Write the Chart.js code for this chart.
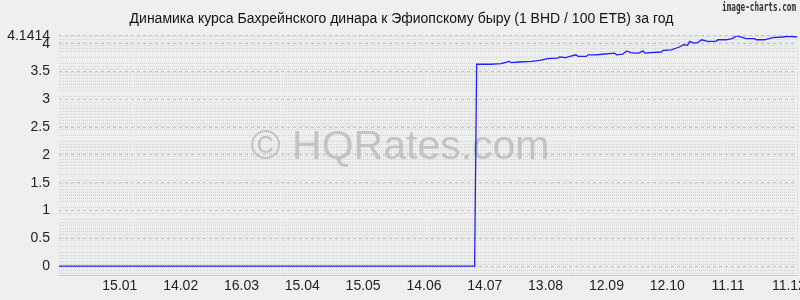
<!DOCTYPE html>
<html><head><meta charset="utf-8">
<script src="https://cdn.jsdelivr.net/npm/chart.js@4/dist/chart.umd.min.js"></script>
<style>html,body{margin:0;padding:0;background:#efefef;overflow:hidden;}</style>
</head><body>
<canvas id="c" width="800" height="300"></canvas>
<script>
const titleText = "Динамика курса Бахрейнского динара к Эфиопскому быру (1 BHD / 100 ETB) за год";
const watermarkText = "© HQRates.com";
const creditText = "image-charts.com";
const xTickDays = [30, 60, 90, 120, 150, 180, 210, 240, 270, 300, 330, 360];
const xTickLabels = ["15.01", "14.02", "16.03", "15.04", "15.05", "14.06", "14.07", "13.08", "12.09", "12.10", "11.11", "11.12"];
const yTickValues = [0, 0.5, 1, 1.5, 2, 2.5, 3, 3.5, 4, 4.1414];
const days  = [0, 205, 206, 208, 213, 218, 220, 222, 223, 227, 233, 237, 241, 246, 247, 250, 252, 255, 256, 260, 261, 265, 268, 274, 275, 278, 280, 282, 284, 286, 288, 289, 292, 297, 298, 302, 306, 308, 310, 311, 313, 315, 317, 320, 324, 325, 329, 332, 334, 336, 339, 343, 344, 348, 352, 357, 360, 364];
const rates = [0, 0, 3.63, 3.63, 3.63, 3.64, 3.66, 3.68, 3.66, 3.67, 3.68, 3.70, 3.73, 3.74, 3.76, 3.75, 3.77, 3.80, 3.77, 3.77, 3.80, 3.80, 3.81, 3.83, 3.80, 3.81, 3.87, 3.84, 3.83, 3.83, 3.87, 3.83, 3.84, 3.85, 3.88, 3.89, 3.94, 3.98, 3.97, 4.04, 4.01, 4.02, 4.07, 4.04, 4.04, 4.07, 4.07, 4.09, 4.14, 4.12, 4.09, 4.09, 4.07, 4.07, 4.11, 4.12, 4.13, 4.12];

const dayCount = 365;
const yMin = -0.16, yMax = 4.1414;
const FONT = '"Liberation Sans", Arial, sans-serif';

const decor = {
  id: 'decor',
  beforeDatasetsDraw(chart) {
    const ctx = chart.ctx;
    ctx.save();
    ctx.font = '41px ' + FONT;
    ctx.fillStyle = 'rgba(185,185,185,0.8)';
    ctx.textAlign = 'center';
    ctx.textBaseline = 'middle';
    ctx.fillText(watermarkText, 400, 148);
    ctx.restore();
  },
  afterDraw(chart) {
    const ctx = chart.ctx;
    ctx.save();
    ctx.font = 'bold 12px "DejaVu Sans Mono", monospace';
    ctx.fillStyle = '#333';
    ctx.textAlign = 'right';
    ctx.textBaseline = 'alphabetic';
    ctx.fillText(creditText, 796, 11, 74);
    ctx.restore();
  }
};

new Chart(document.getElementById('c'), {
  type: 'line',
  data: {
    datasets: [{
      data: days.map((d, i) => ({x: d, y: rates[i]})),
      borderColor: '#1f1fff',
      borderWidth: 1.3,
      pointRadius: 0,
      tension: 0,
      fill: false
    }]
  },
  options: {
    responsive: false,
    animation: false,
    devicePixelRatio: 1,
    layout: {padding: {left: 6, right: 3, top: 0, bottom: 0}},
    plugins: {
      legend: {display: false},
      tooltip: {enabled: false},
      title: {
        display: true, text: titleText, color: '#111',
        font: {family: FONT, size: 14, weight: 'normal'},
        padding: {top: 11, bottom: 8}
      }
    },
    scales: {
      x: {
        type: 'linear', min: 0, max: dayCount - 1,
        afterBuildTicks(s) { s.ticks = Array.from({length: dayCount}, (_, i) => ({value: i})); },
        afterFit(s) { s.height = 25; s.paddingLeft = 0; s.paddingRight = 0; },
        ticks: {
          autoSkip: false, maxRotation: 0, minRotation: 0, padding: 3,
          color: '#222', font: {family: FONT, size: 14},
          callback(v) { const k = xTickDays.indexOf(v); return k >= 0 ? xTickLabels[k] : ''; }
        },
        grid: {color: '#cbcbcb', lineWidth: 1, drawTicks: false, z: -3},
        border: {display: true, color: '#cccccc', dash: [1, 2]}
      },
      yb: {
        type: 'linear', position: 'left', min: yMin, max: yMax,
        afterBuildTicks(s) { const t = []; for (let i = -1; i <= 41; i++) t.push({value: i / 10}); s.ticks = t; },
        afterFit(s) { s.width = 0; s.paddingTop = 0; s.paddingBottom = 0; },
        ticks: {display: false},
        grid: {color: '#efefef', lineWidth: 1, drawTicks: false, z: -2},
        border: {display: false}
      },
      y: {
        type: 'linear', position: 'left', min: yMin, max: yMax,
        afterBuildTicks(s) { s.ticks = yTickValues.map(v => ({value: v})); },
        afterFit(s) { s.width = 53; s.paddingTop = 0; s.paddingBottom = 0; },
        ticks: {
          autoSkip: false, padding: 9, color: '#222', font: {family: FONT, size: 14},
          callback(v) { return String(v); }
        },
        grid: {color: '#c4c4c4', lineWidth: 1, drawTicks: false, z: -1},
        border: {display: false, dash: [3, 3]}
      }
    }
  },
  plugins: [decor]
});
</script>
</body></html>
